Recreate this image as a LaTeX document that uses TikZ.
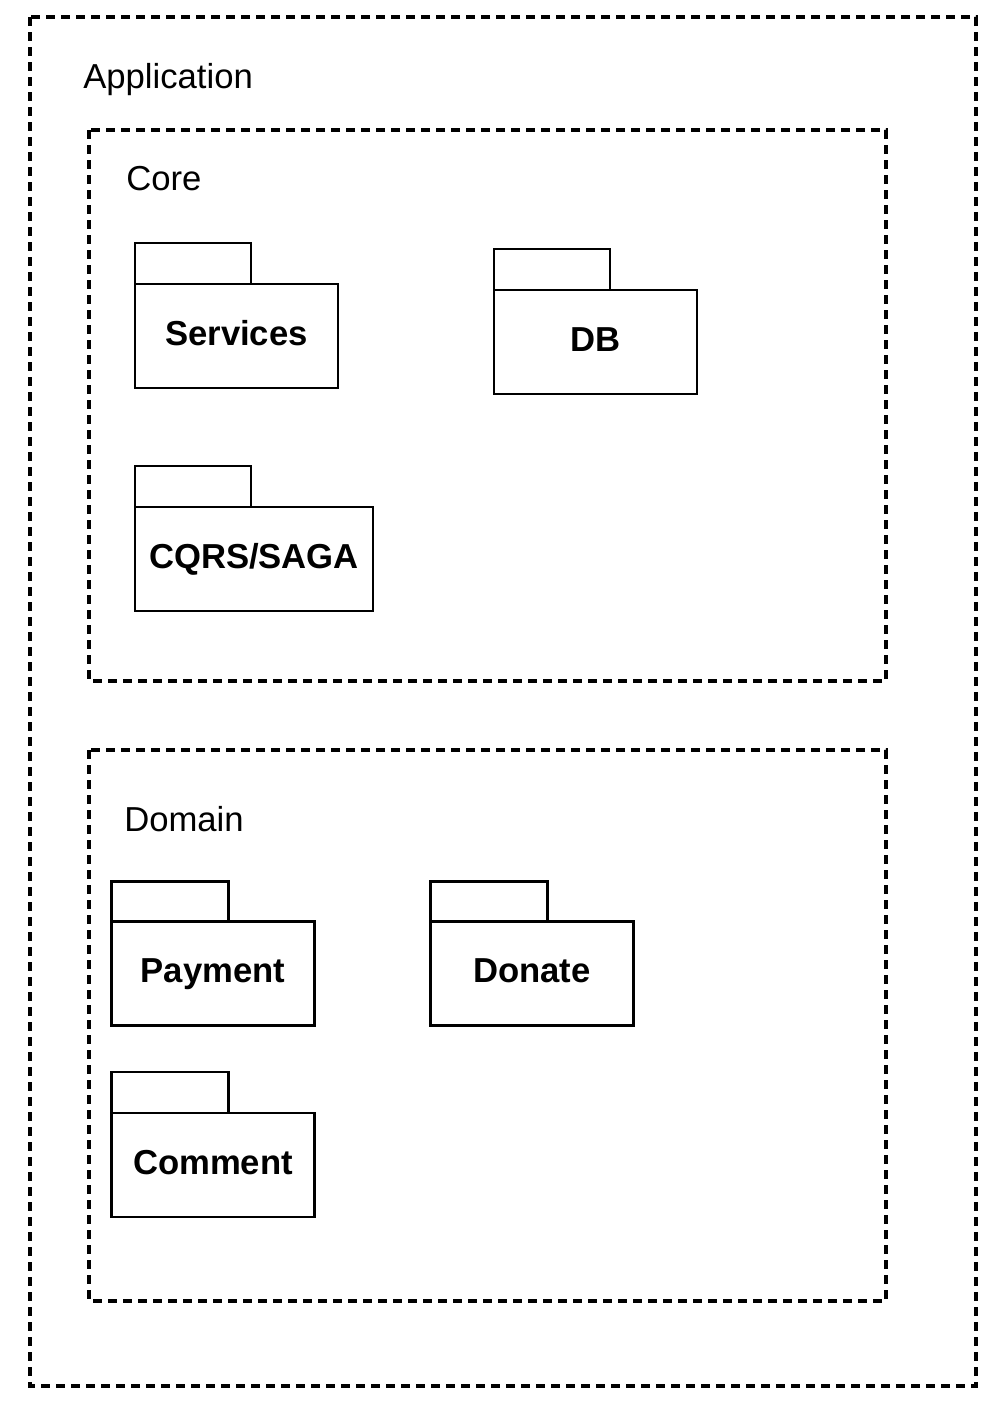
\documentclass[tikz,border=0pt]{standalone}
\usepackage{fontspec}
\setmainfont{Liberation Sans}
\usetikzlibrary{positioning}

\tikzset{
	frame/.style={line width=2.3pt, dash pattern=on 6.75pt off 4.5pt},
	title/.style={anchor=base west, inner sep=0pt, font=\fontsize{26}{31}\selectfont},
	pkg/.style={draw, line width=2.2pt, minimum width=152.25pt, minimum height=78pt,
		inner sep=0pt, outer sep=0pt, text height=20pt, text depth=5.9pt,
		font=\fontsize{26}{31}\selectfont\bfseries},
	tab/.style={line width=2.2pt},
}

\begin{document}
\begin{tikzpicture}[x=0.75pt, y=-0.75pt]
	\useasboundingbox (0,0) rectangle (1006,1415);

	% outer frames
	\draw[frame] (30,17) rectangle (976,1386);
	\draw[frame] (89,130) rectangle (886,681);
	\draw[frame] (89,750) rectangle (886,1301);

	\node[title] (app) at (83,88) {Application};
	\node[title] (core) at (126,190) {Core};
	\node[title] (domain) at (124,831) {Domain};

	% core packages
	\node[pkg] (svc) at (236.5,336) {Services};
	\node[pkg] (db) at (595.5,342) {DB};
	\node[pkg, minimum width=178.5pt] (cqrs) at (254,559) {CQRS/SAGA};
	\draw[tab] (svc.north west) rectangle ++(116,-41);
	\draw[tab] (db.north west) rectangle ++(116,-41);
	\draw[tab] (cqrs.north west) rectangle ++(116,-41);

	% domain packages
	\node[pkg] (pay) at (213,973.5) {Payment};
	\node[pkg] (don) at (532,973.5) {Donate};
	\node[pkg] (com) at (213,1165) {Comment};
	\draw[tab] (pay.north west) rectangle ++(117,-40);
	\draw[tab] (don.north west) rectangle ++(117,-40);
	\draw[tab] (com.north west) rectangle ++(117,-41);

\end{tikzpicture}
\end{document}
